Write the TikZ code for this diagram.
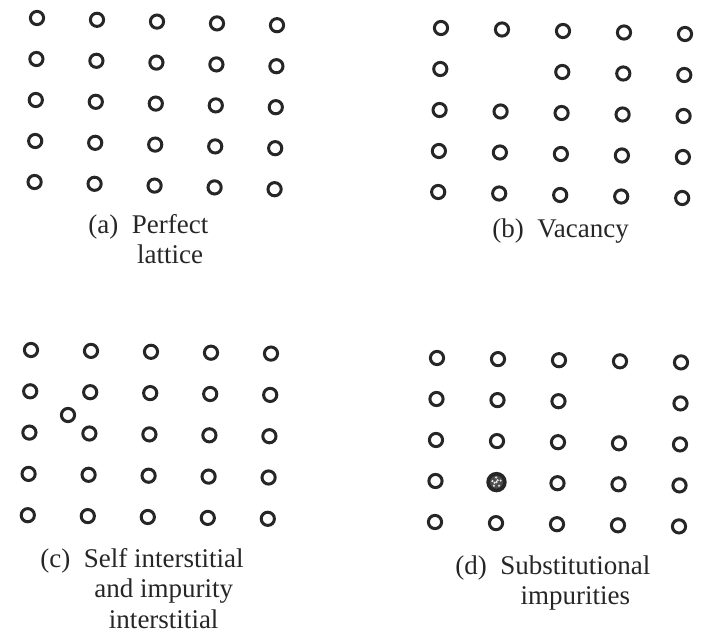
\documentclass[tikz,border=0pt]{standalone}
\usepackage{fontspec}
\setmainfont{Liberation Serif}
\usetikzlibrary{positioning}

\begin{document}
\begin{tikzpicture}[
        x=0.5pt, y=-0.5pt,
        atom/.style={circle, draw=black!85, line width=1.5pt, minimum size=6.6pt, inner sep=0pt},
        impurity/.style={atom, fill=black!70, line width=1.8pt, minimum size=8.4pt},
        caption/.style={anchor=base west, inner sep=0pt, text=black!85, font=\fontsize{13.5}{15.4}\selectfont}
    ]
        \useasboundingbox (0,0) rectangle (708,637);

        % (a) perfect lattice
        \begin{scope}[shift={(37,18)}, x={(30pt,-0.9pt)}, y={(-0.3pt,-20.5pt)}]
            \foreach \i in {0,...,4}
                \foreach \j in {0,...,4}
                    \node[atom] (a-\i-\j) at (\i,\j) {};
        \end{scope}

        % (b) vacancy
        \begin{scope}[shift={(441,28)}, x={(30.5pt,-0.75pt)}, y={(-0.35pt,-20.5pt)}]
            \foreach \i in {0,...,4}
                \foreach \j in {0,...,4}
                    {\ifnum\i\j=11\relax\else\node[atom] (b-\i-\j) at (\i,\j) {};\fi}
        \end{scope}

        % (c) interstitial
        \begin{scope}[shift={(31,350)}, x={(30pt,-0.45pt)}, y={(-0.4pt,-20.65pt)}]
            \foreach \i in {0,...,4}
                \foreach \j in {0,...,4}
                    \node[atom] (c-\i-\j) at (\i,\j) {};
        \end{scope}
        \node[atom] (inter) at (68,415) {};

        % (d) substitutional impurity
        \begin{scope}[shift={(437,358)}, x={(30.5pt,-0.55pt)}, y={(-0.25pt,-20.5pt)}]
            \foreach \i in {0,...,4}
                \foreach \j in {0,...,4}
                    {\ifnum\i\j=31\relax\else\ifnum\i\j=13\relax
                        \node[impurity] (sub) at (\i,\j) {};
                    \else
                        \node[atom] (d-\i-\j) at (\i,\j) {};
                    \fi\fi}
        \end{scope}
        \foreach \a/\r in {0/0, 20/2.2, 95/2.3, 165/2.1, 235/2.2, 305/2.2, 60/1.1, 200/1.0}
            \fill[white!90!black] ([shift={(\a:\r pt)}]sub.center) circle (0.6pt);

        % Captions
        \node[caption] (capa) at (88,233) {(a)\enspace\begin{tabular}[t]{@{}c@{}}Perfect\\lattice\end{tabular}};
        \node[caption] (capb) at (492,237) {(b)\enspace Vacancy};
        \node[caption] (capc) at (40,567) {(c)\enspace\begin{tabular}[t]{@{}c@{}}Self interstitial\\and impurity\\interstitial\end{tabular}};
        \node[caption] (capd) at (455,574) {(d)\enspace\begin{tabular}[t]{@{}c@{}}Substitutional\\impurities\end{tabular}};
    \end{tikzpicture}
\end{document}
